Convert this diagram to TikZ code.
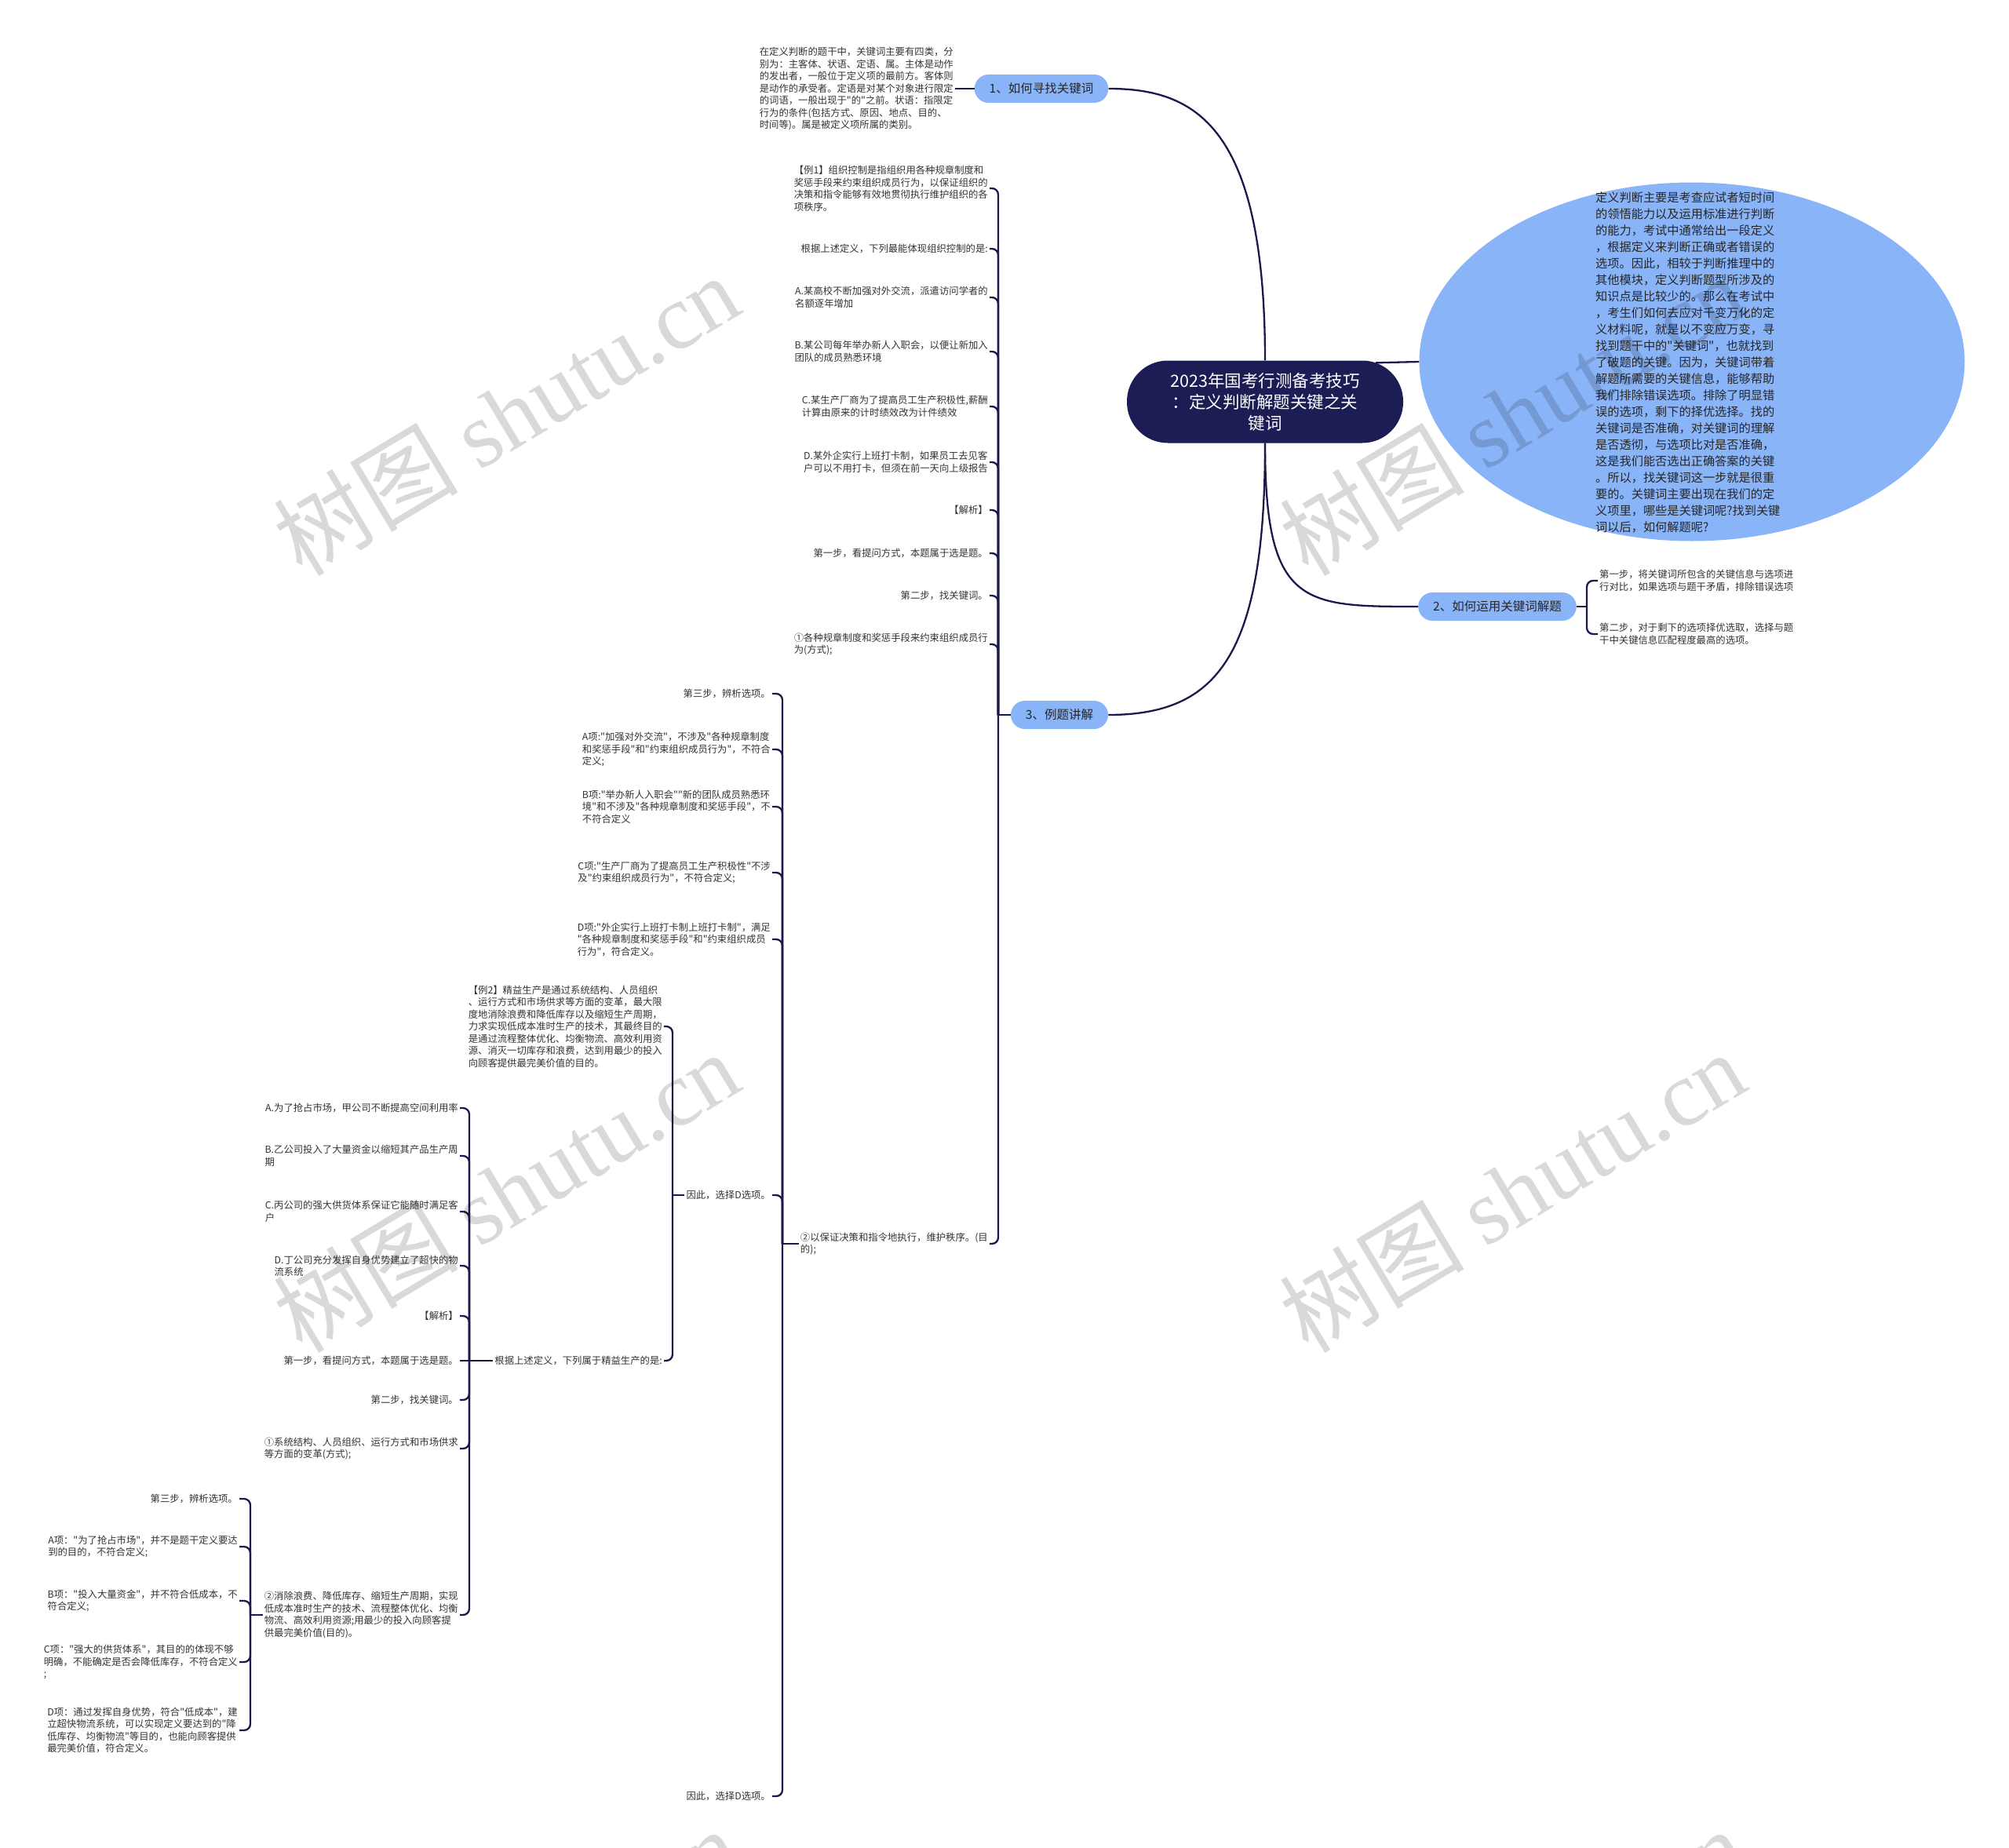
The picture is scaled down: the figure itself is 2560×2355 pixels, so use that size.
\documentclass[tikz,border=0pt]{standalone}
\usepackage{fontspec}
\setmainfont{Noto Sans CJK SC}
\newfontfamily\cjk{Noto Sans CJK SC}
\newfontfamily\wmlatin{Liberation Serif}
\usetikzlibrary{shapes.geometric}
\definecolor{navy}{HTML}{1D1D56}
\definecolor{pillblue}{HTML}{8AB4F8}
\definecolor{linecol}{HTML}{1A1A4A}
\definecolor{txtcol}{HTML}{333333}
\begin{document}
\cjk
\begin{tikzpicture}[x=1pt,y=-1pt,
  conn/.style={draw=linecol,line width=2.3pt},
  hook/.style={conn,rounded corners=8pt},
  txt/.style={font=\cjk\fontsize{12.35}{15.5}\selectfont,align=left,inner sep=2pt,text=txtcol},
  rtxt/.style={txt,anchor=east},
  pill/.style={fill=pillblue,rounded corners=18pt,minimum height=36pt,inner xsep=19pt,inner ysep=0pt,font=\cjk\fontsize{15.5}{18}\selectfont,text=black!85}
]
\fill[white] (0,0) rectangle (2560,2355);
\useasboundingbox (0,0) rectangle (2560,2355);

% root
\node[fill=navy,rounded corners=52pt,minimum width=352pt,minimum height=105pt,text=white,align=center,font=\cjk\fontsize{21.5}{27}\selectfont,inner sep=0pt] (root) at (1612,512) {2023年国考行测备考技巧\\：定义判断解题关键之关\\键词};

% ellipse
\node[ellipse,fill=pillblue,minimum width=695pt,minimum height=457pt,inner sep=0pt] (ell) at (2156,461) {};
\node[anchor=west,align=left,inner sep=0pt,font=\cjk\fontsize{15.2}{21}\selectfont,text=black!85] (elltxt) at (2033,462) {定义判断主要是考查应试者短时间\\的领悟能力以及运用标准进行判断\\的能力，考试中通常给出一段定义\\，根据定义来判断正确或者错误的\\选项。因此，相较于判断推理中的\\其他模块，定义判断题型所涉及的\\知识点是比较少的。那么在考试中\\，考生们如何去应对千变万化的定\\义材料呢，就是以不变应万变，寻\\找到题干中的"关键词"，也就找到\\了破题的关键。因为，关键词带着\\解题所需要的关键信息，能够帮助\\我们排除错误选项。排除了明显错\\误的选项，剩下的择优选择。找的\\关键词是否准确，对关键词的理解\\是否透彻，与选项比对是否准确，\\这是我们能否选出正确答案的关键\\。所以，找关键词这一步就是很重\\要的。关键词主要出现在我们的定\\义项里，哪些是关键词呢?找到关键\\词以后，如何解题呢?};

% branches
\node[pill] (b1) at (1327,113) {1、如何寻找关键词};
\node[pill] (b2) at (1908,773) {2、如何运用关键词解题};
\node[pill] (b3) at (1350,911) {3、例题讲解};

% branch 1 text
\node[rtxt] (t1) at (1217,113) {在定义判断的题干中，关键词主要有四类，分\\别为：主客体、状语、定语、属。主体是动作\\的发出者，一般位于定义项的最前方。客体则\\是动作的承受者。定语是对某个对象进行限定\\的词语，一般出现于"的"之前。状语：指限定\\行为的条件(包括方式、原因、地点、目的、\\时间等)。属是被定义项所属的类别。};

% branch 2 texts
\node[txt,anchor=west] (m1) at (2036,740) {第一步，将关键词所包含的关键信息与选项进\\行对比，如果选项与题干矛盾，排除错误选项};
\node[txt,anchor=west] (m2) at (2036,808) {第二步，对于剩下的选项择优选取，选择与题\\干中关键信息匹配程度最高的选项。};

% branch 3 texts
\node[rtxt] (e1) at (1261,240) {【例1】组织控制是指组织用各种规章制度和\\奖惩手段来约束组织成员行为，以保证组织的\\决策和指令能够有效地贯彻执行维护组织的各\\项秩序。};
\node[rtxt] (e2) at (1261,317) {根据上述定义，下列最能体现组织控制的是:};
\node[rtxt] (e3) at (1261,379) {A.某高校不断加强对外交流，派遣访问学者的\\名额逐年增加};
\node[rtxt] (e4) at (1261,448) {B.某公司每年举办新人入职会，以便让新加入\\团队的成员熟悉环境};
\node[rtxt] (e5) at (1261,518) {C.某生产厂商为了提高员工生产积极性,薪酬\\计算由原来的计时绩效改为计件绩效};
\node[rtxt] (e6) at (1261,589) {D.某外企实行上班打卡制，如果员工去见客\\户可以不用打卡，但须在前一天向上级报告};
\node[rtxt] (e7) at (1261,650) {【解析】};
\node[rtxt] (e8) at (1261,705) {第一步，看提问方式，本题属于选是题。};
\node[rtxt] (e9) at (1261,759) {第二步，找关键词。};
\node[rtxt] (e10) at (1261,821) {①各种规章制度和奖惩手段来约束组织成员行\\为(方式);};
\node[rtxt] (e11) at (1261,1585) {②以保证决策和指令地执行，维护秩序。(目\\的);};

% children of e11
\node[rtxt] (f1) at (984,884) {第三步，辨析选项。};
\node[rtxt] (f2) at (984,955) {A项:"加强对外交流"，不涉及"各种规章制度\\和奖惩手段"和"约束组织成员行为"，不符合\\定义;};
\node[rtxt] (f3) at (984,1028) {B项:"举办新人入职会""新的团队成员熟悉环\\境"和不涉及"各种规章制度和奖惩手段"，不\\不符合定义};
\node[rtxt] (f4) at (984,1112) {C项:"生产厂商为了提高员工生产积极性"不涉\\及"约束组织成员行为"，不符合定义;};
\node[rtxt] (f5) at (984,1197) {D项:"外企实行上班打卡制上班打卡制"，满足\\"各种规章制度和奖惩手段"和"约束组织成员\\行为"，符合定义。};
\node[rtxt] (f6) at (984,1523) {因此，选择D选项。};
\node[rtxt] (f7) at (984,2289) {因此，选择D选项。};

% children of f6
\node[rtxt] (g1) at (846,1308) {【例2】精益生产是通过系统结构、人员组织\\、运行方式和市场供求等方面的变革，最大限\\度地消除浪费和降低库存以及缩短生产周期，\\力求实现低成本准时生产的技术，其最终目的\\是通过流程整体优化、均衡物流、高效利用资\\源、消灭一切库存和浪费，达到用最少的投入\\向顾客提供最完美价值的目的。};
\node[rtxt] (g2) at (846,1734) {根据上述定义，下列属于精益生产的是:};

% children of g2
\node[rtxt] (h1) at (586,1412) {A.为了抢占市场，甲公司不断提高空间利用率};
\node[rtxt] (h2) at (586,1473) {B.乙公司投入了大量资金以缩短其产品生产周\\期};
\node[rtxt] (h3) at (586,1544) {C.丙公司的强大供货体系保证它能随时满足客\\户};
\node[rtxt] (h4) at (586,1613) {D.丁公司充分发挥自身优势建立了超快的物\\流系统};
\node[rtxt] (h5) at (586,1677) {【解析】};
\node[rtxt] (h6) at (586,1734) {第一步，看提问方式，本题属于选是题。};
\node[rtxt] (h7) at (586,1784) {第二步，找关键词。};
\node[rtxt] (h8) at (586,1846) {①系统结构、人员组织、运行方式和市场供求\\等方面的变革(方式);};
\node[rtxt] (h9) at (586,2058) {②消除浪费、降低库存、缩短生产周期，实现\\低成本准时生产的技术、流程整体优化、均衡\\物流、高效利用资源;用最少的投入向顾客提\\供最完美价值(目的)。};

% children of h9
\node[rtxt] (k1) at (305,1910) {第三步，辨析选项。};
\node[rtxt] (k2) at (305,1971) {A项："为了抢占市场"，并不是题干定义要达\\到的目的，不符合定义;};
\node[rtxt] (k3) at (305,2040) {B项："投入大量资金"，并不符合低成本，不\\符合定义;};
\node[rtxt] (k4) at (305,2118) {C项："强大的供货体系"，其目的的体现不够\\明确，不能确定是否会降低库存，不符合定义\\;};
\node[rtxt] (k5) at (305,2205) {D项：通过发挥自身优势，符合"低成本"，建\\立超快物流系统，可以实现定义要达到的"降\\低库存、均衡物流"等目的，也能向顾客提供\\最完美价值，符合定义。};

% junctions
\coordinate (j2) at (2022,773);
\coordinate (j3) at (1272,911);
\coordinate (j11) at (997,1585);
\coordinate (j6) at (857,1523);
\coordinate (jg) at (598,1734);
\coordinate (jh) at (319,2058);

% connectors
\draw[conn] (root.north) .. controls +(0,-300) and +(110,0) .. (b1.east);
\draw[conn] (root.south) .. controls +(0,208) and +(-147,0) .. (b2.west);
\draw[conn] (root.south) .. controls +(0,270) and +(140,0) .. (b3.east);
\draw[conn] ([xshift=-35pt,yshift=-3pt]root.north east) -- (ell.west);
\draw[conn] (b1.west) -- (t1.east);

\draw[conn] (b2.east) -- (j2);
\foreach \c in {m1,m2} \draw[hook] (j2) |- (\c.west);

\draw[conn] (b3.west) -- (j3);
\foreach \c in {e1,e2,e3,e4,e5,e6,e7,e8,e9,e10,e11} \draw[hook] (j3) |- (\c.east);

\draw[conn] (e11.west) -- (j11);
\foreach \c in {f1,f2,f3,f4,f5,f6,f7} \draw[hook] (j11) |- (\c.east);

\draw[conn] (f6.west) -- (j6);
\foreach \c in {g1,g2} \draw[hook] (j6) |- (\c.east);

\draw[conn] (g2.west) -- (jg);
\foreach \c in {h1,h2,h3,h4,h5,h7,h8,h9} \draw[hook] (jg) |- (\c.east);
\draw[conn] (jg) -- (h6.east);

\draw[conn] (h9.west) -- (jh);
\foreach \c in {k1,k2,k3,k4,k5} \draw[hook] (jh) |- (\c.east);

% watermarks
\begin{scope}
\clip (0,0) rectangle (2560,2355);
\foreach \x/\y [count=\i] in {645/528,1927/528,645/1518,1927/1518,645/2508,1927/2508}
  \node[rotate=31,text=black,text opacity=0.15,font=\cjk\fontsize{118}{118}\selectfont,inner sep=0pt] (wm\i) at (\x,\y) {树图 {\wmlatin shutu.cn}};
\end{scope}
\end{tikzpicture}
\end{document}
